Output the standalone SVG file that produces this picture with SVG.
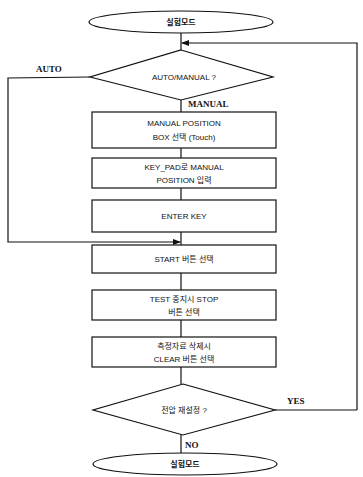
<svg xmlns="http://www.w3.org/2000/svg" width="363" height="477" viewBox="0 0 363 477">
<style>
.s{fill:#fff;stroke:#111;stroke-width:1.2}
.c{fill:none;stroke:#111;stroke-width:1.2}
.t{font-family:"Liberation Sans","Noto Sans CJK KR",sans-serif;font-size:8px;fill:#111;text-anchor:middle}
.l{font-family:"Liberation Serif",serif;font-size:9px;font-weight:bold;fill:#111}
</style>
<defs>
<marker id="a" markerWidth="8" markerHeight="6" refX="7" refY="3" orient="auto" markerUnits="userSpaceOnUse">
<path d="M0,0 L8,3 L0,6 Z" fill="#111"/>
</marker>
</defs>
<rect width="363" height="477" fill="#fff"/>
<g id="connectors">
<line class="c" x1="181" y1="33" x2="181" y2="50"/>
<path class="c" d="M357,410 L357,43 L182,43" marker-end="url(#a)"/>
<path class="c" d="M90,77 L8,78 L8,242 L180,242" marker-end="url(#a)"/>
<line class="c" x1="181" y1="100" x2="181" y2="112"/>
<line class="c" x1="181" y1="148" x2="181" y2="158"/>
<line class="c" x1="181" y1="188" x2="181" y2="200"/>
<line class="c" x1="181" y1="232" x2="181" y2="245"/>
<line class="c" x1="181" y1="273" x2="181" y2="290"/>
<line class="c" x1="181" y1="320" x2="181" y2="337"/>
<line class="c" x1="181" y1="367" x2="181" y2="384"/>
<line class="c" x1="275" y1="410" x2="357" y2="410"/>
<line class="c" x1="181" y1="435" x2="181" y2="453"/>
<text class="l" x="36" y="72">AUTO</text>
<text class="l" x="188" y="107">MANUAL</text>
<text class="l" x="287" y="404">YES</text>
<text class="l" x="185" y="448">NO</text>
</g>
<g id="start">
<ellipse class="s" cx="181" cy="22" rx="92" ry="11"/>
<text class="t" x="181" y="25" font-weight="bold">실험모드</text>
</g>
<g id="decision1">
<polygon class="s" points="181,50 273,77 181,100 90,77"/>
<text class="t" x="184" y="80">AUTO/MANUAL ?</text>
</g>
<g id="box1">
<rect class="s" x="92" y="112" width="184" height="36"/>
<text class="t" x="184" y="126">MANUAL POSITION</text>
<text class="t" x="184" y="140">BOX 선택 (Touch)</text>
</g>
<g id="box2">
<rect class="s" x="92" y="158" width="184" height="30"/>
<text class="t" x="184" y="170">KEY_PAD로 MANUAL</text>
<text class="t" x="184" y="183">POSITION 입력</text>
</g>
<g id="box3">
<rect class="s" x="92" y="200" width="184" height="32"/>
<text class="t" x="184" y="219">ENTER KEY</text>
</g>
<g id="box4">
<rect class="s" x="92" y="245" width="184" height="28"/>
<text class="t" x="184" y="262">START 버튼 선택</text>
</g>
<g id="box5">
<rect class="s" x="92" y="290" width="184" height="30"/>
<text class="t" x="184" y="302">TEST 중지시 STOP</text>
<text class="t" x="184" y="315">버튼 선택</text>
</g>
<g id="box6">
<rect class="s" x="92" y="337" width="184" height="30"/>
<text class="t" x="184" y="349">측정자료 삭제시</text>
<text class="t" x="184" y="362">CLEAR 버튼 선택</text>
</g>
<g id="decision2">
<polygon class="s" points="183,384 275,410 183,435 93,410"/>
<text class="t" x="184" y="413">전압 재설정 ?</text>
</g>
<g id="end">
<ellipse class="s" cx="185" cy="464" rx="92" ry="11"/>
<text class="t" x="185" y="467" font-weight="bold">실험모드</text>
</g>
</svg>
